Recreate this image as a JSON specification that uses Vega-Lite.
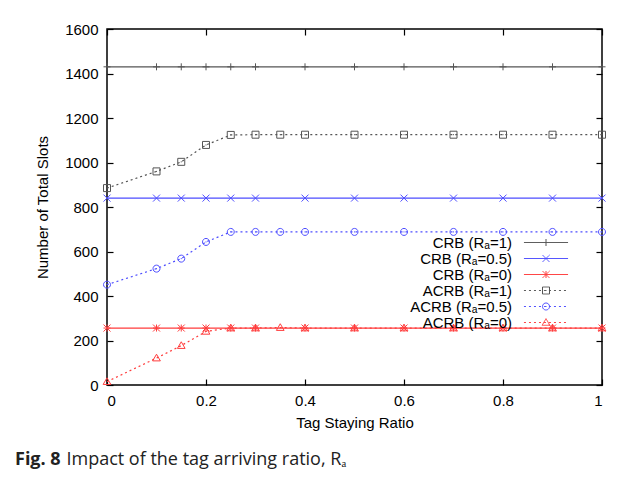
{
  "$schema": "https://vega.github.io/schema/vega-lite/v6.json",
  "width": 495,
  "height": 356,
  "autosize": "none",
  "padding": {"left": 107, "top": 29, "right": 25, "bottom": 97},
  "background": "white",
  "config": {
    "view": {"stroke": "#000000", "strokeWidth": 1.5},
    "font": "Liberation Sans",
    "axis": {"labelFont": "Liberation Sans", "titleFont": "Liberation Sans", "labelColor": "#000", "titleColor": "#000", "labelFontSize": 15, "titleFontSize": 15, "titleFontWeight": "normal", "grid": false, "domain": false, "tickColor": "#000", "tickWidth": 1.2, "tickSize": -6},
    "legend": {
      "orient": "none", "legendX": 431.5, "legendY": 206, "title": null,
      "labelAlign": "right", "labelOffset": -41.5, "labelBaseline": "middle",
      "labelFont": "Liberation Sans", "labelFontSize": 15, "labelColor": "#000", "labelLimit": 300,
      "symbolSize": 49, "symbolStrokeWidth": 1, "rowPadding": -0.5, "padding": 0
    }
  },
  "title": {
    "text": "Fig. 8",
    "subtitle": "\u200b\u00a0\u00a0\u00a0\u00a0\u00a0\u00a0\u00a0\u00a0\u00a0\u00a0\u00a0Impact of the tag arriving ratio, Rₐ",
    "orient": "bottom",
    "anchor": "start",
    "frame": "group",
    "dx": -92,
    "offset": 21,
    "font": "Open Sans",
    "fontSize": 18,
    "fontWeight": "bold",
    "color": "#222",
    "subtitleFont": "Open Sans",
    "subtitleFontSize": 18,
    "subtitleColor": "#222",
    "subtitlePadding": -18
  },
  "data": {
    "values": [
      {"series": "CRB (Rₐ=1)", "x": 0, "y": 1430},
      {"series": "CRB (Rₐ=1)", "x": 0.1, "y": 1430},
      {"series": "CRB (Rₐ=1)", "x": 0.15, "y": 1430},
      {"series": "CRB (Rₐ=1)", "x": 0.2, "y": 1430},
      {"series": "CRB (Rₐ=1)", "x": 0.25, "y": 1430},
      {"series": "CRB (Rₐ=1)", "x": 0.3, "y": 1430},
      {"series": "CRB (Rₐ=1)", "x": 0.4, "y": 1430},
      {"series": "CRB (Rₐ=1)", "x": 0.5, "y": 1430},
      {"series": "CRB (Rₐ=1)", "x": 0.6, "y": 1430},
      {"series": "CRB (Rₐ=1)", "x": 0.7, "y": 1430},
      {"series": "CRB (Rₐ=1)", "x": 0.8, "y": 1430},
      {"series": "CRB (Rₐ=1)", "x": 0.9, "y": 1430},
      {"series": "CRB (Rₐ=1)", "x": 1, "y": 1430},
      {"series": "CRB (Rₐ=0.5)", "x": 0, "y": 840},
      {"series": "CRB (Rₐ=0.5)", "x": 0.1, "y": 840},
      {"series": "CRB (Rₐ=0.5)", "x": 0.15, "y": 840},
      {"series": "CRB (Rₐ=0.5)", "x": 0.2, "y": 840},
      {"series": "CRB (Rₐ=0.5)", "x": 0.25, "y": 840},
      {"series": "CRB (Rₐ=0.5)", "x": 0.3, "y": 840},
      {"series": "CRB (Rₐ=0.5)", "x": 0.4, "y": 840},
      {"series": "CRB (Rₐ=0.5)", "x": 0.5, "y": 840},
      {"series": "CRB (Rₐ=0.5)", "x": 0.6, "y": 840},
      {"series": "CRB (Rₐ=0.5)", "x": 0.7, "y": 840},
      {"series": "CRB (Rₐ=0.5)", "x": 0.8, "y": 840},
      {"series": "CRB (Rₐ=0.5)", "x": 0.9, "y": 840},
      {"series": "CRB (Rₐ=0.5)", "x": 1, "y": 840},
      {"series": "CRB (Rₐ=0)", "x": 0, "y": 256},
      {"series": "CRB (Rₐ=0)", "x": 0.1, "y": 256},
      {"series": "CRB (Rₐ=0)", "x": 0.15, "y": 256},
      {"series": "CRB (Rₐ=0)", "x": 0.2, "y": 256},
      {"series": "CRB (Rₐ=0)", "x": 0.25, "y": 256},
      {"series": "CRB (Rₐ=0)", "x": 0.3, "y": 256},
      {"series": "CRB (Rₐ=0)", "x": 0.4, "y": 256},
      {"series": "CRB (Rₐ=0)", "x": 0.5, "y": 256},
      {"series": "CRB (Rₐ=0)", "x": 0.6, "y": 256},
      {"series": "CRB (Rₐ=0)", "x": 0.7, "y": 256},
      {"series": "CRB (Rₐ=0)", "x": 0.8, "y": 256},
      {"series": "CRB (Rₐ=0)", "x": 0.9, "y": 256},
      {"series": "CRB (Rₐ=0)", "x": 1, "y": 256},
      {"series": "ACRB (Rₐ=1)", "x": 0, "y": 885},
      {"series": "ACRB (Rₐ=1)", "x": 0.1, "y": 960},
      {"series": "ACRB (Rₐ=1)", "x": 0.15, "y": 1003},
      {"series": "ACRB (Rₐ=1)", "x": 0.2, "y": 1079},
      {"series": "ACRB (Rₐ=1)", "x": 0.25, "y": 1124},
      {"series": "ACRB (Rₐ=1)", "x": 0.3, "y": 1125},
      {"series": "ACRB (Rₐ=1)", "x": 0.35, "y": 1125},
      {"series": "ACRB (Rₐ=1)", "x": 0.4, "y": 1125},
      {"series": "ACRB (Rₐ=1)", "x": 0.5, "y": 1125},
      {"series": "ACRB (Rₐ=1)", "x": 0.6, "y": 1125},
      {"series": "ACRB (Rₐ=1)", "x": 0.7, "y": 1125},
      {"series": "ACRB (Rₐ=1)", "x": 0.8, "y": 1125},
      {"series": "ACRB (Rₐ=1)", "x": 0.9, "y": 1125},
      {"series": "ACRB (Rₐ=1)", "x": 1, "y": 1125},
      {"series": "ACRB (Rₐ=0.5)", "x": 0, "y": 451},
      {"series": "ACRB (Rₐ=0.5)", "x": 0.1, "y": 523},
      {"series": "ACRB (Rₐ=0.5)", "x": 0.15, "y": 568},
      {"series": "ACRB (Rₐ=0.5)", "x": 0.2, "y": 643},
      {"series": "ACRB (Rₐ=0.5)", "x": 0.25, "y": 688},
      {"series": "ACRB (Rₐ=0.5)", "x": 0.3, "y": 688},
      {"series": "ACRB (Rₐ=0.5)", "x": 0.35, "y": 688},
      {"series": "ACRB (Rₐ=0.5)", "x": 0.4, "y": 688},
      {"series": "ACRB (Rₐ=0.5)", "x": 0.5, "y": 688},
      {"series": "ACRB (Rₐ=0.5)", "x": 0.6, "y": 688},
      {"series": "ACRB (Rₐ=0.5)", "x": 0.7, "y": 688},
      {"series": "ACRB (Rₐ=0.5)", "x": 0.8, "y": 688},
      {"series": "ACRB (Rₐ=0.5)", "x": 0.9, "y": 688},
      {"series": "ACRB (Rₐ=0.5)", "x": 1, "y": 688},
      {"series": "ACRB (Rₐ=0)", "x": 0, "y": 15},
      {"series": "ACRB (Rₐ=0)", "x": 0.1, "y": 121},
      {"series": "ACRB (Rₐ=0)", "x": 0.15, "y": 177},
      {"series": "ACRB (Rₐ=0)", "x": 0.2, "y": 241},
      {"series": "ACRB (Rₐ=0)", "x": 0.25, "y": 256},
      {"series": "ACRB (Rₐ=0)", "x": 0.3, "y": 256},
      {"series": "ACRB (Rₐ=0)", "x": 0.35, "y": 258},
      {"series": "ACRB (Rₐ=0)", "x": 0.4, "y": 256},
      {"series": "ACRB (Rₐ=0)", "x": 0.5, "y": 256},
      {"series": "ACRB (Rₐ=0)", "x": 0.6, "y": 256},
      {"series": "ACRB (Rₐ=0)", "x": 0.7, "y": 256},
      {"series": "ACRB (Rₐ=0)", "x": 0.8, "y": 256},
      {"series": "ACRB (Rₐ=0)", "x": 0.9, "y": 256},
      {"series": "ACRB (Rₐ=0)", "x": 1, "y": 256}
    ]
  },
  "layer": [
    {
      "mark": {"type": "line", "strokeWidth": 1.2, "clip": true},
      "encoding": {
        "x": {"field": "x", "type": "quantitative", "scale": {"domain": [0, 1], "nice": false},
              "axis": {"orient": "bottom", "values": [0, 0.2, 0.4, 0.6, 0.8, 1], "format": "~g", "title": "Tag Staying Ratio", "labelPadding": 14, "titlePadding": 7}},
        "y": {"field": "y", "type": "quantitative", "scale": {"domain": [0, 1600], "nice": false},
              "axis": {"orient": "left", "values": [0, 200, 400, 600, 800, 1000, 1200, 1400, 1600], "format": "d", "title": "Number of Total Slots", "labelPadding": 15, "titlePadding": 14}},
        "color": {"field": "series", "type": "nominal",
                  "scale": {"domain": ["CRB (Rₐ=1)", "CRB (Rₐ=0.5)", "CRB (Rₐ=0)", "ACRB (Rₐ=1)", "ACRB (Rₐ=0.5)", "ACRB (Rₐ=0)"],
                            "range": ["#555555", "#4d4dff", "#ff3c3c", "#555555", "#4d4dff", "#ff3c3c"]},
                  "legend": {
                    "symbolStrokeWidth": 1,
                    "encoding": {"symbols": {
                      "shape": {"value": {"expr": "datum.index==0?'M-6.3,0H6.3M0,-1V1':datum.index==1?'M-6.3,0H6.3M-1,-1L1,1M-1,1L1,-1':datum.index==2?'M-6.3,0H6.3M0,-1V1M-1,-1L1,1M-1,1L1,-1':datum.index==3?'M-6.3,0h0.57M-4.87,0h0.57M-3.44,0h0.57M-2.01,0h0.57M-0.59,0h0.57M0.84,0h0.57M2.27,0h0.57M3.7,0h0.57M5.13,0h0.57M-1,-1H1V1H-1ZM-0.15,0H0.15':datum.index==4?'M-6.3,0h0.57M-4.87,0h0.57M-3.44,0h0.57M-2.01,0h0.57M-0.59,0h0.57M0.84,0h0.57M2.27,0h0.57M3.7,0h0.57M5.13,0h0.57M1,0A1,1,0,1,1,-1,0A1,1,0,1,1,1,0ZM-0.15,0H0.15':'M-6.3,0h0.57M-4.87,0h0.57M-3.44,0h0.57M-2.01,0h0.57M-0.59,0h0.57M0.84,0h0.57M2.27,0h0.57M3.7,0h0.57M5.13,0h0.57M0,-1.1L1.1,0.8H-1.1Z'"}},
                      "strokeDash": {"value": [1, 0]},
                      "fill": {"value": "transparent"}
                    }}
                  }},
        "strokeDash": {"field": "series", "type": "nominal",
                       "scale": {"domain": ["ACRB (Rₐ=1)", "ACRB (Rₐ=0.5)", "ACRB (Rₐ=0)", "CRB (Rₐ=1)", "CRB (Rₐ=0.5)", "CRB (Rₐ=0)"],
                                 "range": [[2, 3], [2, 3], [2, 3], [1, 0], [1, 0], [1, 0]]},
                       "legend": null}
      }
    },
    {
      "mark": {"type": "point", "filled": false, "strokeWidth": 1, "size": 49, "opacity": 1, "clip": false},
      "encoding": {
        "x": {"field": "x", "type": "quantitative",
              "axis": {"orient": "top", "values": [0, 0.2, 0.4, 0.6, 0.8, 1], "labels": false, "title": null}},
        "y": {"field": "y", "type": "quantitative",
              "axis": {"orient": "right", "values": [0, 200, 400, 600, 800, 1000, 1200, 1400, 1600], "labels": false, "title": null}},
        "shape": {"field": "series", "type": "nominal",
                  "scale": {"domain": ["ACRB (Rₐ=0)", "ACRB (Rₐ=0.5)", "ACRB (Rₐ=1)", "CRB (Rₐ=0)", "CRB (Rₐ=0.5)", "CRB (Rₐ=1)"],
                            "range": ["M0,-1.1L1.1,0.8H-1.1Z", "M1,0A1,1,0,1,1,-1,0A1,1,0,1,1,1,0ZM-0.15,0H0.15", "M-1,-1H1V1H-1ZM-0.15,0H0.15", "M-1,0H1M0,-1V1M-1,-1L1,1M-1,1L1,-1", "M-1,-1L1,1M-1,1L1,-1", "M-1,0H1M0,-1V1"]},
                  "legend": null},
        "color": {"field": "series", "type": "nominal",
                  "legend": {
                    "symbolStrokeWidth": 1,
                    "encoding": {"symbols": {
                      "shape": {"value": {"expr": "datum.index==0?'M-6.3,0H6.3M0,-1V1':datum.index==1?'M-6.3,0H6.3M-1,-1L1,1M-1,1L1,-1':datum.index==2?'M-6.3,0H6.3M0,-1V1M-1,-1L1,1M-1,1L1,-1':datum.index==3?'M-6.3,0h0.57M-4.87,0h0.57M-3.44,0h0.57M-2.01,0h0.57M-0.59,0h0.57M0.84,0h0.57M2.27,0h0.57M3.7,0h0.57M5.13,0h0.57M-1,-1H1V1H-1ZM-0.15,0H0.15':datum.index==4?'M-6.3,0h0.57M-4.87,0h0.57M-3.44,0h0.57M-2.01,0h0.57M-0.59,0h0.57M0.84,0h0.57M2.27,0h0.57M3.7,0h0.57M5.13,0h0.57M1,0A1,1,0,1,1,-1,0A1,1,0,1,1,1,0ZM-0.15,0H0.15':'M-6.3,0h0.57M-4.87,0h0.57M-3.44,0h0.57M-2.01,0h0.57M-0.59,0h0.57M0.84,0h0.57M2.27,0h0.57M3.7,0h0.57M5.13,0h0.57M0,-1.1L1.1,0.8H-1.1Z'"}},
                      "strokeDash": {"value": [1, 0]},
                      "fill": {"value": "transparent"}
                    }}
                  }}
      }
    }
  ]
}
